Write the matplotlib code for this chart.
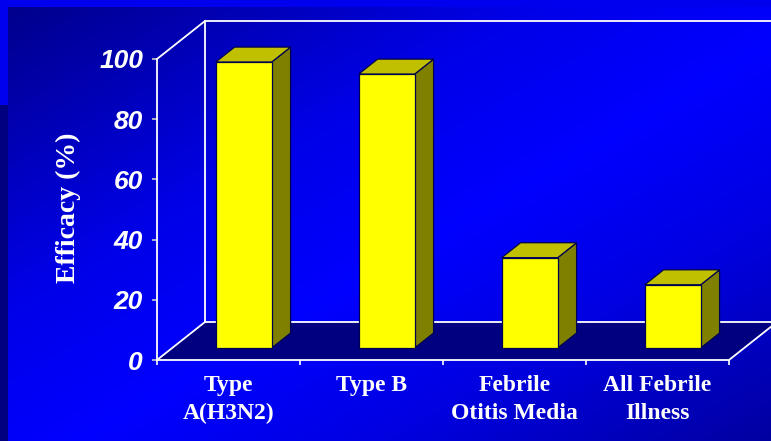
import numpy as np
import matplotlib
matplotlib.use("Agg")
import matplotlib.pyplot as plt
from matplotlib.patches import Polygon

# ---- data ----
categories = ["Type\nA(H3N2)", "Type B", "Febrile\nOtitis Media", "All Febrile\nIllness"]
efficacy = [95, 91, 30, 21]
y_ticks = [0, 20, 40, 60, 80, 100]
y_label = "Efficacy (%)"

W, H = 771, 441
fig = plt.figure(figsize=(W / 100, H / 100), dpi=100)

# ---- background gradient ----
bg = fig.add_axes([0, 0, 1, 1], zorder=-10)
bg.set_axis_off()
yy, xx = np.mgrid[0:H, 0:W].astype(float)
t = (xx / W + yy / H) / 2.0
blue = np.interp(t, [0.0, 0.35, 0.55, 0.75, 1.0], [0x88, 0xE8, 0xFF, 0xE0, 0xA0]) / 255.0
# border strips
blue[:7, :] = 0xEE / 255.0
left = np.where(yy[:, :8] < 105, 0xEE / 255.0, 0x80 / 255.0)
blue[:, :8] = left
img = np.zeros((H, W, 3))
img[..., 2] = blue
bg.imshow(img, extent=[0, W, H, 0], aspect="auto", interpolation="bilinear")
bg.set_xlim(0, W)
bg.set_ylim(H, 0)

# ---- main axes (front plane of the 3D box) ----
x0, x1, ytop, ybot = 157, 729, 59, 360
ax = fig.add_axes([x0 / W, (H - ybot) / H, (x1 - x0) / W, (ybot - ytop) / H])
ax.set_facecolor("none")
n = len(categories)
ax.set_xlim(-0.5, n - 0.5)
ax.set_ylim(0, 100)

# depth vector in data units (full depth of the box)
px_per_cat = (x1 - x0) / n
px_per_val = (ybot - ytop) / 100.0
ddx = 48 / px_per_cat
ddy = 38 / px_per_val

line_kw = dict(color="white", lw=1.3, clip_on=False)
xl, xr = -0.5, n - 0.5
# floor
ax.add_patch(Polygon([(xl, 0), (xr, 0), (xr + ddx, ddy), (xl + ddx, ddy)],
                     closed=True, facecolor="#000080", edgecolor="none",
                     clip_on=False, zorder=1))
# back wall & floor lines
ax.plot([xl + ddx, xr + ddx], [ddy, ddy], zorder=2, **line_kw)
ax.plot([xl + ddx, xl + ddx], [ddy, 100 + ddy], zorder=2, **line_kw)
ax.plot([xl + ddx, xr + ddx], [100 + ddy, 100 + ddy], zorder=2, **line_kw)
# left wall diagonals & right floor diagonal
ax.plot([xl, xl + ddx], [0, ddy], zorder=2, **line_kw)
ax.plot([xl, xl + ddx], [100, 100 + ddy], zorder=2, **line_kw)
ax.plot([xr, xr + ddx], [0, ddy], zorder=2, **line_kw)

# ---- 3D bars ----
f0, f1 = 0.316, 0.71
bw = 56 / px_per_cat
edge = dict(edgecolor="#000050", lw=0.9, clip_on=False, zorder=3)
for i, v in enumerate(efficacy):
    l = i - bw / 2 + f0 * ddx
    r = l + bw
    b = f0 * ddy
    top = v + f0 * ddy
    sx = (f1 - f0) * ddx
    sy = (f1 - f0) * ddy
    ax.add_patch(Polygon([(r, b), (r + sx, b + sy), (r + sx, top + sy), (r, top)],
                         closed=True, facecolor="#808000", **edge))
    ax.add_patch(Polygon([(l, top), (r, top), (r + sx, top + sy), (l + sx, top + sy)],
                         closed=True, facecolor="#C0C000", **edge))
    ax.add_patch(Polygon([(l, b), (r, b), (r, top), (l, top)],
                         closed=True, facecolor="#FFFF00", **edge))

# ---- spines / ticks ----
for s in ["top", "right"]:
    ax.spines[s].set_visible(False)
for s in ["left", "bottom"]:
    ax.spines[s].set_color("white")
    ax.spines[s].set_linewidth(1.3)
    ax.spines[s].set_zorder(4)

ax.set_yticks(y_ticks)
ax.set_yticklabels([str(v) for v in y_ticks], fontsize=19, fontweight="bold",
                   fontstyle="italic", family="Liberation Sans", color="white")
ax.tick_params(axis="y", length=3.6, width=1.2, color="#C8C8C8", pad=6.5)

ax.set_xticks(np.arange(-0.5, n, 1.0))
ax.set_xticklabels([])
ax.tick_params(axis="x", which="major", length=3.6, width=1.2, color="white")
ax.set_xticks(np.arange(n), minor=True)
ax.set_xticklabels(categories, minor=True, fontsize=17, fontweight="bold",
                   family="Liberation Serif", color="white", linespacing=1.42)
ax.tick_params(axis="x", which="minor", length=0, pad=11)

fig.text(68 / W, 1 - 208 / H, y_label, rotation=90, ha="center", va="center",
         fontsize=20, fontweight="bold", family="Liberation Serif", color="white")

fig.savefig("out.png", dpi=100)
